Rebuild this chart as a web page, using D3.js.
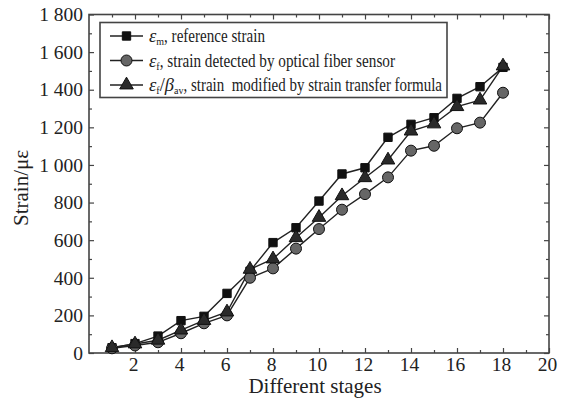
<!DOCTYPE html>
<html>
<head>
<meta charset="utf-8">
<script src="https://cdn.jsdelivr.net/npm/d3@7"></script>
<style>
  body { margin: 0; background: #fff; }
  svg { display: block; font-family: "Liberation Serif", "Times New Roman", serif; }
</style>
</head>
<body>
<div id="chart"></div>
<script>
const stages = d3.range(1, 19);
const referenceStrain = [28, 50, 90, 172, 195, 317, 435, 587, 666, 808, 952, 985, 1147, 1216, 1251, 1354, 1416, 1519];
const fiberStrain = [25, 40, 57, 105, 158, 200, 400, 450, 555, 659, 762, 845, 934, 1076, 1102, 1195, 1225, 1384];
const modifiedStrain = [28, 48, 68, 122, 173, 218, 445, 500, 613, 721, 836, 932, 1026, 1180, 1218, 1310, 1345, 1526];
const xTicks = d3.range(2, 21, 2);
const yTicks = d3.range(0, 1801, 200);

const width = 565, height = 401;
const margin = { left: 89, right: 16, top: 14.5, bottom: 48 };

const svg = d3.select('#chart').append('svg')
  .attr('width', width)
  .attr('height', height);

const x = d3.scaleLinear().domain([0, 20]).range([margin.left, width - margin.right]);
const y = d3.scaleLinear().domain([0, 1800]).range([height - margin.bottom, margin.top]);

const fmt = v => v >= 1000 ? Math.floor(v / 1000) + ' ' + d3.format('03d')(v % 1000) : String(v);

// inward ticks on all four sides
const axisColor = '#444';
function styleAxis(g) {
  g.attr('font-family', null);
  g.select('.domain').remove();
  g.selectAll('line').attr('stroke', axisColor).attr('stroke-width', 1.2);
}
const minorX = d3.range(1, 20, 2);
const minorY = d3.range(100, 1800, 200);

svg.append('g').attr('transform', `translate(0,${y(0)})`)
  .call(d3.axisBottom(x).tickValues(xTicks).tickSize(-5).tickPadding(4).tickFormat(d3.format('d')))
  .call(styleAxis)
  .call(g => g.selectAll('text').attr('font-size', 19.5).attr('fill', '#222').attr('dx', -2));
svg.append('g').attr('transform', `translate(0,${y(0)})`)
  .call(d3.axisBottom(x).tickValues(minorX).tickSize(-3).tickFormat(''))
  .call(styleAxis);
svg.append('g').attr('transform', `translate(0,${y(1800)})`)
  .call(d3.axisTop(x).tickValues(xTicks).tickSize(-5).tickFormat(''))
  .call(styleAxis);
svg.append('g').attr('transform', `translate(0,${y(1800)})`)
  .call(d3.axisTop(x).tickValues(minorX).tickSize(-3).tickFormat(''))
  .call(styleAxis);

svg.append('g').attr('transform', `translate(${x(0)},0)`)
  .call(d3.axisLeft(y).tickValues(yTicks).tickSize(-5).tickPadding(6).tickFormat(fmt))
  .call(styleAxis)
  .call(g => g.selectAll('text').attr('font-size', 19.5).attr('fill', '#222'));
svg.append('g').attr('transform', `translate(${x(0)},0)`)
  .call(d3.axisLeft(y).tickValues(minorY).tickSize(-3).tickFormat(''))
  .call(styleAxis);
svg.append('g').attr('transform', `translate(${x(20)},0)`)
  .call(d3.axisRight(y).tickValues(yTicks).tickSize(-5).tickFormat(''))
  .call(styleAxis);
svg.append('g').attr('transform', `translate(${x(20)},0)`)
  .call(d3.axisRight(y).tickValues(minorY).tickSize(-3).tickFormat(''))
  .call(styleAxis);

// frame
svg.append('rect')
  .attr('x', x(0)).attr('y', y(1800))
  .attr('width', x(20) - x(0)).attr('height', y(0) - y(1800))
  .attr('fill', 'none').attr('stroke', axisColor).attr('stroke-width', 1.6);

// axis titles
svg.append('text')
  .attr('x', 315).attr('y', 393)
  .attr('text-anchor', 'middle').attr('font-size', 21).attr('fill', '#222')
  .text('Different stages');
svg.append('text')
  .attr('transform', `translate(28,188) rotate(-90)`)
  .attr('text-anchor', 'middle').attr('font-size', 21).attr('fill', '#222')
  .text('Strain/με');

// series
const series = [
  { name: 'ref', values: referenceStrain, shape: d3.symbolSquare, size: 70, fill: '#111' },
  { name: 'fiber', values: fiberStrain, shape: d3.symbolCircle, size: 95, fill: '#666' },
  { name: 'mod', values: modifiedStrain, shape: d3.symbolTriangle, size: 80, fill: '#2a2a2a' }
];

const line = d3.line().x((d, i) => x(stages[i])).y(d => y(d));

series.forEach(s => {
  svg.append('path')
    .datum(s.values)
    .attr('d', line)
    .attr('fill', 'none')
    .attr('stroke', '#222')
    .attr('stroke-width', 1.4);
});
series.forEach(s => {
  svg.append('g').selectAll('path')
    .data(s.values)
    .join('path')
    .attr('transform', (d, i) => `translate(${x(stages[i])},${y(d)})`)
    .attr('d', d3.symbol().type(s.shape).size(s.size))
    .attr('fill', s.fill)
    .attr('stroke', '#111')
    .attr('stroke-width', 1);
});

// legend
const legend = svg.append('g');
legend.append('rect')
  .attr('x', 100).attr('y', 22.5).attr('width', 347).attr('height', 75)
  .attr('fill', '#fff').attr('stroke', axisColor).attr('stroke-width', 1.6);

// symbol part (italic/subscripts) + plain description, fitted to the reference widths
const legendRows = [
  { end: 265, sym: [['ε', 'i', 0], ['m', '', 1]], desc: ', reference strain' },
  { end: 395, sym: [['ε', 'i', 0], ['f', '', 1]], desc: ', strain detected by optical fiber sensor' },
  { end: 442, sym: [['ε', 'i', 0], ['f', '', 1], ['/', '', 0], ['β', 'i', 0], ['av', '', 1]], desc: ', strain\u00a0\u00a0modified by strain transfer formula' }
];

legendRows.forEach((row, i) => {
  const s = series[i];
  const cy = 36 + i * 24.5;
  legend.append('line')
    .attr('x1', 110).attr('x2', 143).attr('y1', cy).attr('y2', cy)
    .attr('stroke', '#222').attr('stroke-width', 1.4);
  legend.append('path')
    .attr('transform', `translate(126.5,${cy})`)
    .attr('d', d3.symbol().type(s.shape).size(s.size))
    .attr('fill', s.fill).attr('stroke', '#111').attr('stroke-width', 1);
  const sym = legend.append('text')
    .attr('x', 149).attr('y', cy + 6)
    .attr('font-size', 18.5).attr('fill', '#222');
  let shift = 0;
  row.sym.forEach(([txt, style, sub]) => {
    const ts = sym.append('tspan').text(txt);
    if (style === 'i') ts.attr('font-style', 'italic');
    const target = sub ? 3 : 0;
    ts.attr('dy', target - shift);
    if (sub) ts.attr('font-size', 10);
    shift = target;
  });
  const start = 149 + sym.node().getComputedTextLength();
  legend.append('text')
    .attr('x', start).attr('y', cy + 6)
    .attr('font-size', 18.5).attr('fill', '#222')
    .attr('textLength', row.end - start).attr('lengthAdjust', 'spacingAndGlyphs')
    .text(row.desc);
});
</script>
</body>
</html>
